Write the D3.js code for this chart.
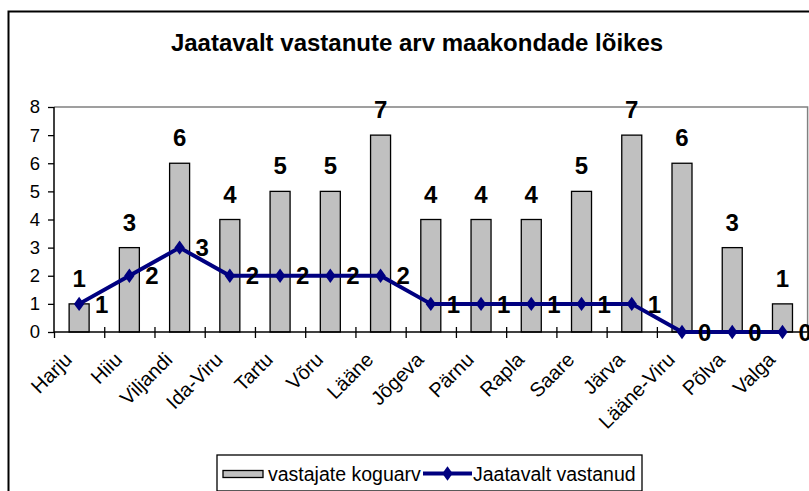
<!DOCTYPE html>
<html>
<head>
<meta charset="utf-8">
<script src="https://cdn.jsdelivr.net/npm/d3@7"></script>
<style>
  body { margin: 0; background: #fff; }
  svg { display: block; font-family: Arial, "Liberation Sans", sans-serif; }
</style>
</head>
<body>
<div id="chart"></div>
<script>
const categories = ["Harju", "Hiiu", "Viljandi", "Ida-Viru", "Tartu", "Võru", "Lääne", "Jõgeva",
  "Pärnu", "Rapla", "Saare", "Järva", "Lääne-Viru", "Põlva", "Valga"];
const totalCounts = [1, 3, 6, 4, 5, 5, 7, 4, 4, 4, 5, 7, 6, 3, 1];
const yesCounts = [1, 2, 3, 2, 2, 2, 2, 1, 1, 1, 1, 1, 0, 0, 0];
const yTicks = [0, 1, 2, 3, 4, 5, 6, 7, 8];
const titleText = "Jaatavalt vastanute arv maakondade lõikes";
const legendLabels = ["vastajate koguarv", "Jaatavalt vastanud"];

const width = 809;
const height = 491;
const plot = { left: 54, top: 107, right: 807.6, bottom: 332 };

const svg = d3.select("#chart")
  .append("svg")
  .attr("width", width)
  .attr("height", height);

// outer chart frame (cut off at right/bottom like the original)
svg.append("path")
  .attr("d", `M8.5,${height + 2}V11.5H${width + 2}`)
  .attr("fill", "none")
  .attr("stroke", "#000")
  .attr("stroke-width", 2);

svg.append("text")
  .attr("x", 417)
  .attr("y", 51)
  .attr("text-anchor", "middle")
  .attr("font-size", 24)
  .attr("font-weight", "bold")
  .text(titleText);

const x = d3.scaleBand()
  .domain(categories)
  .range([plot.left, plot.right]);

const xIndex = d3.scaleLinear()
  .domain([0, categories.length])
  .range([plot.left, plot.right]);

const y = d3.scaleLinear()
  .domain([0, 8])
  .range([plot.bottom, plot.top]);

const cx = (i) => x(categories[i]) + x.bandwidth() / 2;

// plot area border (top and right visible)
svg.append("path")
  .attr("d", `M${plot.left},${plot.top}H${plot.right}V${plot.bottom}`)
  .attr("fill", "none")
  .attr("stroke", "#808080")
  .attr("stroke-width", 1.5);

// bars
const barWidth = 20;
svg.append("g")
  .selectAll("rect")
  .data(totalCounts)
  .join("rect")
  .attr("x", (d, i) => cx(i) - barWidth / 2)
  .attr("y", (d) => y(d))
  .attr("width", barWidth)
  .attr("height", (d) => y(0) - y(d))
  .attr("fill", "#c0c0c0")
  .attr("stroke", "#000")
  .attr("stroke-width", 1.3);

// y axis
const yAxis = svg.append("g")
  .attr("transform", `translate(${plot.left},0)`)
  .call(d3.axisLeft(y).tickValues(yTicks).tickSize(6).tickPadding(8).tickFormat(d3.format("d")));
yAxis.select(".domain").attr("stroke", "#000").attr("stroke-width", 1.5).attr("d", `M0,${plot.top}V${plot.bottom}`);
yAxis.selectAll(".tick line").attr("stroke", "#000").attr("stroke-width", 1.3);
yAxis.selectAll("text")
  .attr("font-size", 18.5)
  .attr("font-family", "Arial, 'Liberation Sans', sans-serif")
  .attr("fill", "#000");

// x axis with crossing ticks between categories
const xAxis = svg.append("g")
  .attr("transform", `translate(0,${plot.bottom})`)
  .call(d3.axisBottom(xIndex).tickValues(d3.range(categories.length + 1)).tickSize(6).tickFormat(""));
xAxis.select(".domain").attr("stroke", "#000").attr("stroke-width", 1.5).attr("d", `M${plot.left},0H${plot.right}`);
xAxis.selectAll(".tick line")
  .attr("stroke", "#000")
  .attr("stroke-width", 1.3)
  .attr("y1", (d) => (d === 0 ? 0 : -5));

// category labels, rotated
svg.append("g")
  .selectAll("text")
  .data(categories)
  .join("text")
  .attr("transform", (d, i) => `translate(${cx(i) - 6},${plot.bottom + 29}) rotate(-45)`)
  .attr("text-anchor", "end")
  .attr("font-size", 20)
  .text((d) => d);

// line series
const lineColor = "#000080";
const line = d3.line()
  .x((d, i) => cx(i))
  .y((d) => y(d));

svg.append("path")
  .datum(yesCounts)
  .attr("d", line)
  .attr("fill", "none")
  .attr("stroke", lineColor)
  .attr("stroke-width", 4)
  .attr("stroke-linejoin", "round");

const diamond = d3.symbol().type(d3.symbolDiamond).size(60);
svg.append("g")
  .selectAll("path")
  .data(yesCounts)
  .join("path")
  .attr("transform", (d, i) => `translate(${cx(i)},${y(d)}) scale(1.25,1)`)
  .attr("d", diamond)
  .attr("fill", lineColor);

// bar value labels
svg.append("g")
  .selectAll("text")
  .data(totalCounts)
  .join("text")
  .attr("x", (d, i) => cx(i))
  .attr("y", (d) => y(d) - 17)
  .attr("text-anchor", "middle")
  .attr("font-size", 24)
  .attr("font-weight", "bold")
  .text((d) => d);

// line value labels
svg.append("g")
  .selectAll("text")
  .data(yesCounts)
  .join("text")
  .attr("x", (d, i) => cx(i) + 16)
  .attr("y", (d) => y(d))
  .attr("dy", "0.36em")
  .attr("font-size", 24)
  .attr("font-weight", "bold")
  .text((d) => d);

// legend
const legend = svg.append("g").attr("transform", "translate(217,455)");
legend.append("rect")
  .attr("width", 425)
  .attr("height", 36)
  .attr("fill", "#fff")
  .attr("stroke", "#000")
  .attr("stroke-width", 1.3);
legend.append("rect")
  .attr("x", 6)
  .attr("y", 15.5)
  .attr("width", 40)
  .attr("height", 7)
  .attr("fill", "#c0c0c0")
  .attr("stroke", "#000")
  .attr("stroke-width", 1.3);
legend.append("text")
  .attr("x", 51)
  .attr("y", 19)
  .attr("dy", "0.35em")
  .attr("font-size", 19.5)
  .text(legendLabels[0]);
legend.append("line")
  .attr("x1", 206)
  .attr("x2", 255)
  .attr("y1", 18.5)
  .attr("y2", 18.5)
  .attr("stroke", lineColor)
  .attr("stroke-width", 4);
legend.append("path")
  .attr("transform", "translate(230.5,18.5) scale(1.25,1)")
  .attr("d", diamond)
  .attr("fill", lineColor);
legend.append("text")
  .attr("x", 256)
  .attr("y", 19)
  .attr("dy", "0.35em")
  .attr("font-size", 19.5)
  .text(legendLabels[1]);
</script>
</body>
</html>
